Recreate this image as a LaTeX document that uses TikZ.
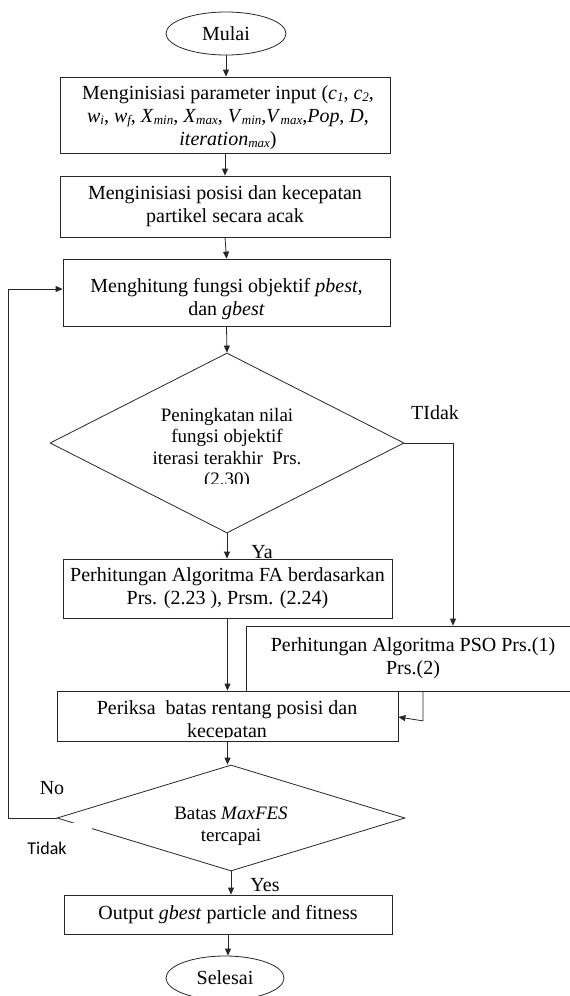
\documentclass[tikz,border=0pt]{standalone}
\usepackage{fontspec}
\setmainfont{Liberation Serif}
\newfontfamily\calibfont{Carlito}
\usetikzlibrary{shapes.geometric,arrows.meta}
\newcommand{\lowsub}[1]{\raisebox{-2pt}{\fontsize{13}{13}\selectfont\itshape #1}}
\begin{document}
\begin{tikzpicture}[x=1pt,y=-1pt,
  ln/.style={draw=black!85,line width=0.8pt},
  boxn/.style={ln,rectangle,inner sep=0pt},
  arr/.style={ln,-{Triangle[length=7pt,width=6pt]}},
  txt/.style={font=\fontsize{20}{23}\selectfont,align=center,inner sep=0pt},
  dtxt/.style={font=\fontsize{19}{21.5}\selectfont,align=center,inner sep=0pt},
  lbl/.style={font=\fontsize{20}{23}\selectfont,inner sep=0pt}]
\useasboundingbox (0,0) rectangle (570,996);

% shapes
\node[ln,ellipse,minimum width=120pt,minimum height=43pt,inner sep=0pt,txt] (start) at (226,33.5) {Mulai};
\node[boxn,minimum width=330pt,minimum height=76pt] (b1) at (225,115) {};
\node[txt] (t1) at (228,117.5) {Menginisiasi parameter input (\textit{c}\lowsub{1}, \textit{c}\lowsub{2},\\
\textit{w}\lowsub{i}, \textit{w}\lowsub{f}, \textit{X}\lowsub{min}, \textit{X}\lowsub{max}, \textit{V}\lowsub{min},\textit{V}\lowsub{max},\textit{Pop}, \textit{D},\\
\textit{iteration}\lowsub{max})};
\node[boxn,minimum width=330pt,minimum height=61pt,txt] (b2) at (225,206.5) {Menginisiasi posisi dan kecepatan\\partikel secara acak};
\node[boxn,minimum width=327pt,minimum height=67pt] (b3) at (226.5,292.5) {};
\node[txt] (t3) at (226.5,299) {Menghitung fungsi objektif \textit{pbest,}\\dan \textit{gbest}};
\node[ln,diamond,minimum width=354pt,minimum height=180pt,inner sep=0pt] (d1) at (227,443) {};
\begin{scope}
\clip (100,395) rectangle (360,483);
\node[dtxt] (td1) at (227,449) {Peningkatan nilai\\fungsi objektif\\iterasi terakhir~~Prs.\\(2.30)};
\end{scope}
\node[boxn,minimum width=329pt,minimum height=59pt,txt] (b4) at (227.5,588.5) {Perhitungan Algoritma FA berdasarkan\\Prs. (2.23 ), Prsm. (2.24)};
\node[boxn,minimum width=334pt,minimum height=65pt,txt] (pso) at (413,658.5) {Perhitungan Algoritma PSO Prs.(1)\\Prs.(2)};
\node[boxn,minimum width=341pt,minimum height=50pt] (b5) at (227.5,716) {};
\begin{scope}
\clip (60,693) rectangle (395,737);
\node[txt] (t5) at (227,721) {Periksa~~batas rentang posisi dan\\kecepatan};
\end{scope}
\node[ln,diamond,minimum width=348pt,minimum height=106pt,inner sep=0pt] (d2) at (231,818) {};
\begin{scope}
\clip (120,795) rectangle (340,846);
\node[dtxt] (td2) at (231,826) {Batas \textit{MaxFES}\\tercapai};
\end{scope}
\node[boxn,minimum width=328pt,minimum height=39pt,txt] (b6) at (228,914.5) {Output \textit{gbest} particle and fitness};
\node[ln,ellipse,minimum width=118pt,minimum height=44pt,inner sep=0pt,txt] (end) at (225,978) {Selesai};

% white label box
\node[fill=white,minimum width=72pt,minimum height=47pt,inner sep=0pt] (wb) at (56,846.5) {};
\node[inner sep=0pt,font=\calibfont\fontsize{18}{20}\selectfont] (tidak2) at (47,848) {Tidak};

% connectors
\draw[arr] (start.south) -- (start.south |- b1.north);
\draw[arr] (b1.south) -- (b2.north);
\draw[arr] (b2.south) -- (b3.north);
\draw[arr] (b3.south) -- (d1.north);
\draw[arr] (d1.south) -- (d1.south |- b4.north);
\draw[arr] (d1.east) -| ([xshift=40pt]pso.north);
\draw[arr] (b4.south) -- (b4.south |- b5.north);
\draw[arr] ([xshift=10pt]pso.south) -- ++(0,29.5) -- ([yshift=-1pt]b5.east);
\draw[arr] (b5.south) -- (b5.south |- d2.north);
\draw[arr] (d2.west) -- ++(-48,0) |- ([yshift=3.5pt]b3.west);
\draw[arr] (d2.south) -- (d2.south |- b6.north);
\draw[arr] (b6.south) -- (b6.south |- end.north);

% labels
\node[lbl] (ltidak) at (435,413) {TIdak};
\node[lbl] (lya) at (262,552) {Ya};
\node[lbl] (lno) at (52,788) {No};
\node[lbl] (lyes) at (265,885) {Yes};
\end{tikzpicture}
\end{document}
